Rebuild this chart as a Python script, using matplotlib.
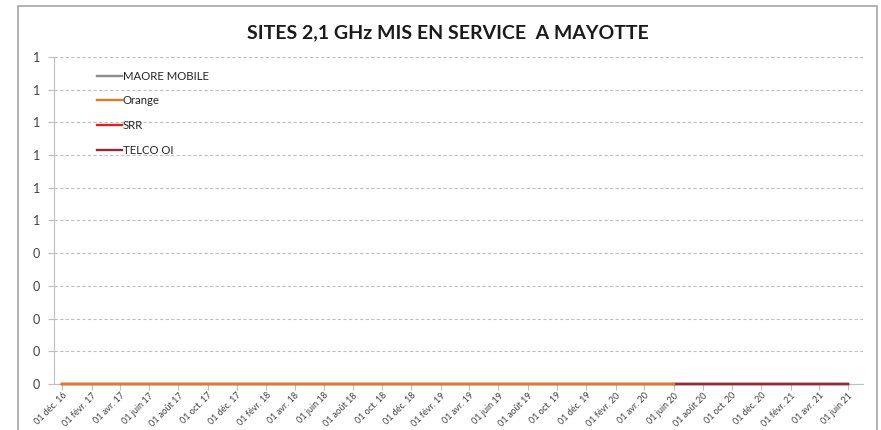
import numpy as np
import pandas as pd
import matplotlib
matplotlib.use("Agg")
import matplotlib.pyplot as plt
import matplotlib.dates as mdates
from matplotlib.patches import Rectangle
from matplotlib.ticker import FixedLocator, FuncFormatter, MultipleLocator

plt.rcParams['font.family'] = ['Lato', 'DejaVu Sans']

# monthly series of 2.1 GHz sites put into service (all zero so far)
months_all = pd.date_range("2016-12-01", "2021-06-01", freq="MS")
months_orange = pd.date_range("2016-12-01", "2020-06-01", freq="MS")
months_telco = pd.date_range("2020-06-01", "2021-06-01", freq="MS")

maore_mobile = np.zeros(len(months_all))
orange = np.zeros(len(months_orange))
srr = np.zeros(len(months_all))
telco_oi = np.zeros(len(months_telco))

operators = ["MAORE MOBILE", "Orange", "SRR", "TELCO OI"]
colors = ["#8c8c8c", "#e07b1f", "#e02020", "#8b2e3a"]

tick_dates = pd.date_range("2016-12-01", "2021-06-01", freq="2MS")
mois = {1: "janv.", 2: "févr.", 3: "mars", 4: "avr.", 5: "mai", 6: "juin",
        7: "juil.", 8: "août", 9: "sept.", 10: "oct.", 11: "nov.", 12: "déc."}
tick_labels = [f"01 {mois[d.month]} {d.year % 100:02d}" for d in tick_dates]

fig = plt.figure(figsize=(8.81, 4.30), dpi=100)
ax = fig.add_axes([54 / 881, 1 - 384 / 430, (863 - 54) / 881, (384 - 57) / 430])

# chart frame
fig.patches.append(Rectangle((18 / 881, -0.05), (877 - 18) / 881, 1.05 - 6 / 430,
                             transform=fig.transFigure, fill=False,
                             edgecolor="#a6a6a6", linewidth=1.2))

lw = 1.7
ax.plot(months_all, maore_mobile, color=colors[0], lw=lw, label=operators[0], zorder=3, clip_on=False)
ax.plot(months_all, srr, color=colors[2], lw=lw, label=operators[2], zorder=3, clip_on=False)
ax.plot(months_telco, telco_oi, color=colors[3], lw=lw, label=operators[3], zorder=4, clip_on=False)
ax.plot(months_orange, orange, color=colors[1], lw=lw, label=operators[1], zorder=5, clip_on=False)

ax.set_xlim(mdates.date2num(pd.Timestamp("2016-11-14")),
            mdates.date2num(pd.Timestamp("2021-07-02")))
ax.set_ylim(0, 1)
ax.yaxis.set_major_locator(MultipleLocator(0.1))
ax.yaxis.set_major_formatter(FuncFormatter(lambda v, p: f"{int(np.floor(v + 0.5 + 1e-9))}"))
ax.xaxis.set_major_locator(FixedLocator(mdates.date2num(tick_dates)))
ax.set_xticklabels(tick_labels, rotation=45, ha="right", rotation_mode="anchor",
                   fontsize=6.5, color="#404040")
ax.tick_params(axis="y", labelsize=9, colors="#404040", length=4, color="#bfbfbf", pad=6)
ax.tick_params(axis="x", length=4, color="#bfbfbf", pad=1)

ax.grid(axis="y", color="#c0c0c0", linestyle=(0, (3, 2)), linewidth=0.8)
for s in ["top", "right"]:
    ax.spines[s].set_visible(False)
ax.spines["left"].set_color("#bfbfbf")
ax.spines["bottom"].set_color("#bfbfbf")

handles, labels = ax.get_legend_handles_labels()
order = [labels.index(n) for n in operators]
ax.legend([handles[i] for i in order], [labels[i] for i in order],
          loc="upper left", bbox_to_anchor=(0.04, 0.99), frameon=False,
          fontsize=8.2, handlelength=2.2, handletextpad=0.1, labelspacing=1.2,
          labelcolor="#262626")

fig.text(0.508, 1 - 33 / 430, "SITES 2,1 GHz MIS EN SERVICE  A MAYOTTE",
         ha="center", va="center", fontsize=14, fontweight="bold", color="#1a1a1a")

fig.savefig("out.png", dpi=100)
